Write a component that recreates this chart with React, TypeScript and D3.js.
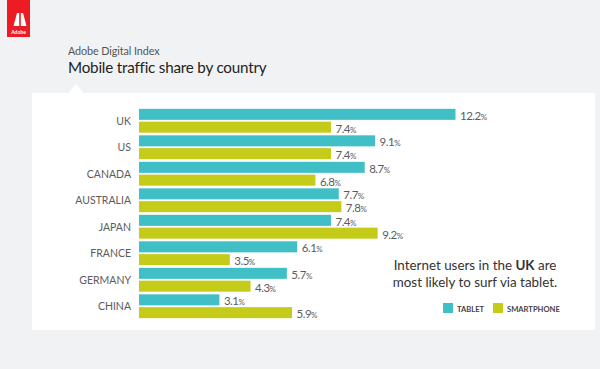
import React from "react";
import * as d3 from "d3";

const countries = ["UK", "US", "CANADA", "AUSTRALIA", "JAPAN", "FRANCE", "GERMANY", "CHINA"];
const tablet = [12.2, 9.1, 8.7, 7.7, 7.4, 6.1, 5.7, 3.1];
const smartphone = [7.4, 7.4, 6.8, 7.8, 9.2, 3.5, 4.3, 5.9];
const seriesNames = ["TABLET", "SMARTPHONE"];
const colors = ["#41bfc7", "#c4cc19"];

const W = 600;
const H = 369;
const FONT = "Lato, 'Open Sans', sans-serif";

export default function App() {
  const x = d3.scaleLinear().domain([0, 12.2]).range([139, 455.5]);
  const y = d3.scaleBand().domain(countries).range([107.5, 319.5]).paddingInner(0.1).paddingOuter(0.05);
  const sub = d3.scaleBand().domain(seriesNames).range([0, y.bandwidth()]).paddingInner(0.14);
  const series = [tablet, smartphone];

  return (
    <svg width={W} height={H} style={{ position: "absolute", left: 0, top: 0, display: "block" }} fontFamily={FONT}>
      <rect x={0} y={0} width={W} height={H} fill="#f1f2f4" />
      {/* Adobe logo */}
      <rect x={7} y={0} width={23} height={37} fill="#ed1c24" />
      <path d="M13.5 26 L17 13 L19.2 13 L19.2 26 Z M20.8 13 L23 13 L26.5 26 L20.8 26 Z" fill="#fff" />
      <text x={18.5} y={34} fontSize={5} fill="#fff" textAnchor="middle" fontWeight="bold">Adobe</text>
      {/* titles */}
      <text x={68} y={54.5} fontSize={10.8} fill="#555" letterSpacing={-0.1}>Adobe Digital Index</text>
      <text x={68} y={73} fontSize={15.2} fill="#222" letterSpacing={-0.2}>Mobile traffic share by country</text>
      {/* panel */}
      <rect x={32} y={93} width={563} height={237} fill="#fff" />
      <path d="M68 93.5 L76 84 L84 93.5 Z" fill="#fff" />
      {/* category labels */}
      {countries.map((c) => (
        <text key={c} x={131} y={(y(c) as number) + y.bandwidth() / 2 + 4} fontSize={10.5} fill="#5c5c5c" textAnchor="end">
          {c}
        </text>
      ))}
      {/* bars */}
      {series.map((vals, si) =>
        vals.map((v, i) => {
          const yy = (y(countries[i]) as number) + (sub(seriesNames[si]) as number);
          return (
            <g key={`${si}-${i}`}>
              <rect x={x(0)} y={yy} width={x(v) - x(0)} height={sub.bandwidth()} fill={colors[si]} />
              <text x={x(v) + 4.5} y={yy + sub.bandwidth() / 2 + 5.5} fontSize={11.5} fill="#5c5c5c" letterSpacing={-0.5}>
                {v.toFixed(1)}
                <tspan fontSize={8}>%</tspan>
              </text>
            </g>
          );
        })
      )}
      {/* annotation */}
      <text x={475} y={270} fontSize={13.4} fill="#333" textAnchor="middle">
        Internet users in the <tspan fontWeight="bold">UK</tspan> are
      </text>
      <text x={475} y={287} fontSize={13.4} fill="#333" textAnchor="middle">most likely to surf via tablet.</text>
      {/* legend */}
      {seriesNames.map((s, i) => {
        const lx = [443, 493][i];
        return (
          <g key={s}>
            <rect x={lx} y={303} width={10} height={10} fill={colors[i]} />
            <text x={lx + 14} y={311.5} fontSize={7.6} fill="#444" fontWeight="bold">{s}</text>
          </g>
        );
      })}
    </svg>
  );
}
